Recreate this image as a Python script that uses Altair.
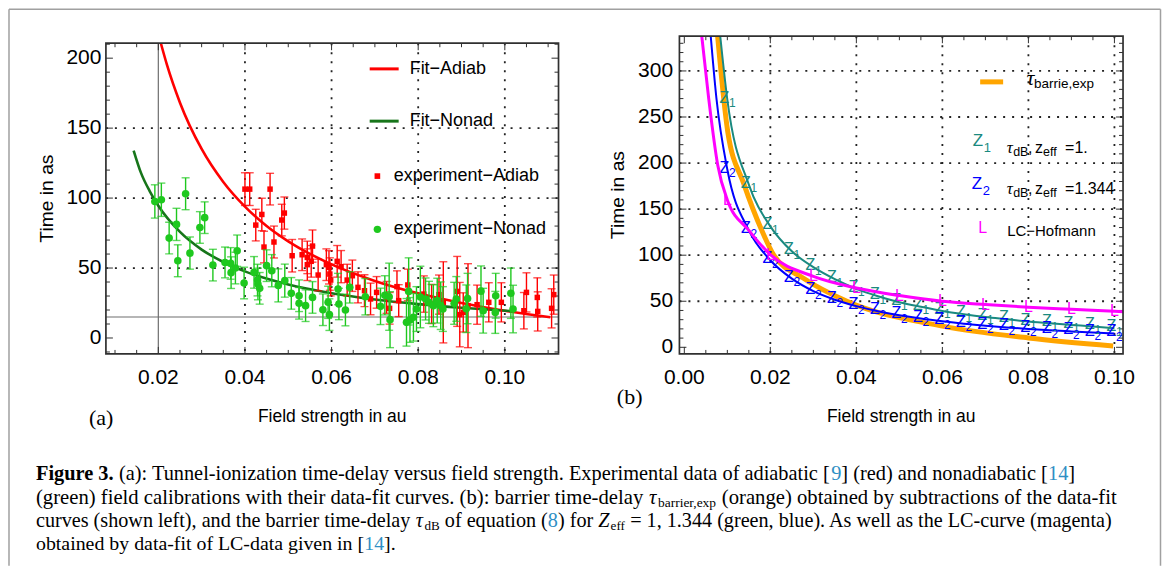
import altair as alt
import pandas as pd

# ---------------- panel (a) data ----------------
adiab_fit_x = [0.0206, 0.022, 0.025, 0.03, 0.035, 0.04, 0.045, 0.05, 0.06, 0.07, 0.08, 0.09, 0.10, 0.1105]
adiab_fit_y = [210.5, 195.2, 168.2, 135.1, 111.5, 93.9, 80.1, 69.1, 52.6, 40.8, 31.9, 25.0, 19.5, 14.8]
nonad_fit_x = [0.0143, 0.016, 0.018, 0.02, 0.025, 0.03, 0.035, 0.04, 0.05, 0.06, 0.07, 0.08, 0.09, 0.1015]
nonad_fit_y = [134, 118, 105, 94.5, 75.8, 63.2, 54.3, 47.6, 38.2, 32.0, 27.5, 24.2, 21.6, 19.2]

adiab_x = [0.0400, 0.0411, 0.0425, 0.0439, 0.0444, 0.0458, 0.0467, 0.0485, 0.0491, 0.0509,
           0.0532, 0.0544, 0.0544, 0.0553, 0.0556, 0.0569, 0.0588, 0.0594, 0.0596, 0.0598,
           0.0613, 0.0622, 0.0636, 0.0648, 0.0661, 0.0676, 0.0690, 0.0704, 0.0727, 0.0734,
           0.0751, 0.0755, 0.0776, 0.0813, 0.0831, 0.0848, 0.0858, 0.0890, 0.0896, 0.0904,
           0.0915, 0.0936, 0.0963, 0.0992, 0.1044, 0.1050, 0.1075, 0.1076, 0.1108, 0.1113]
adiab_y = [106.4, 106.4, 80.7, 88.3, 65.0, 106.4, 68.6, 84.3, 89.3, 58.8,
           59.5, 57.6, 52.4, 54.8, 65.7, 45.0, 52.4, 50.5, 45.7, 41.4,
           54.8, 51.0, 41.4, 44.5, 36.2, 33.8, 27.9, 32.6, 29.0, 21.2,
           36.7, 26.7, 37.9, 31.4, 24.3, 31.0, 25.5, 33.3, 16.7, 18.3,
           23.1, 23.8, 25.5, 25.5, 19.5, 32.6, 29.0, 19.0, 21.2, 31.0]
adiab_err = [11.7, 11.7, 11.3, 11.6, 11.3, 11.3, 11.4, 11.3, 11.5, 11.6,
             11.3, 11.6, 11.3, 11.3, 11.5, 11.3, 11.3, 11.9, 11.6, 11.3,
             11.3, 11.5, 11.3, 11.2, 11.1, 11.4, 11.3, 11.3, 11.4, 11.3,
             11.3, 11.4, 11.3, 13.0, 14.0, 14.0, 29.0, 25.0, 23.0, 14.0,
             30.0, 14.0, 14.0, 14.0, 13.0, 14.0, 14.0, 14.0, 14.0, 14.0]

nonad_x = [0.0192, 0.0207, 0.0225, 0.0242, 0.0245, 0.0263, 0.0273, 0.0296, 0.0307, 0.0326,
           0.0354, 0.0367, 0.0368, 0.0378, 0.0382, 0.0398, 0.0421, 0.0429, 0.0430, 0.0434,
           0.0450, 0.0462, 0.0477, 0.0492, 0.0507, 0.0525, 0.0525, 0.0540, 0.0556, 0.0580,
           0.0592, 0.0595, 0.0615, 0.0617, 0.0632, 0.0642, 0.0678, 0.0713, 0.0723, 0.0733,
           0.0735, 0.0773, 0.0778, 0.0781, 0.0789, 0.0796, 0.0805, 0.0817, 0.0825, 0.0835,
           0.0844, 0.0852, 0.0857, 0.0883, 0.0888, 0.0911, 0.0914, 0.0945, 0.0950, 0.0978,
           0.0979, 0.1014, 0.1019]
nonad_y = [97.6, 98.8, 71.4, 81.2, 55.2, 103.1, 60.7, 79.0, 86.0, 52.1,
           54.0, 53.3, 46.7, 50.0, 62.4, 39.3, 46.9, 41.4, 38.6, 35.5,
           51.7, 48.1, 37.6, 41.0, 31.9, 30.2, 24.8, 23.1, 29.0, 20.2,
           25.5, 16.7, 35.0, 24.3, 20.0, 36.2, 29.5, 22.6, 30.5, 29.5,
           13.1, 11.2, 33.3, 12.9, 14.8, 20.7, 29.3, 27.9, 25.5, 23.1,
           26.7, 23.1, 20.7, 24.8, 27.9, 20.9, 28.2, 33.5, 19.5, 18.3,
           30.2, 32.0, 20.7]
nonad_err = [11.9, 11.9, 11.3, 11.5, 11.4, 11.4, 11.5, 11.3, 11.3, 11.3,
             11.0, 11.3, 11.3, 11.3, 11.2, 11.3, 11.3, 11.3, 11.3, 11.3,
             11.3, 11.5, 11.8, 11.8, 11.3, 11.3, 11.3, 11.3, 11.3, 11.3,
             11.5, 11.3, 11.2, 11.2, 11.3, 11.2, 13.0, 13.0, 14.0, 24.0,
             20.0, 17.0, 24.0, 16.0, 17.0, 16.0, 22.0, 15.0, 15.0, 15.0,
             16.0, 17.0, 16.0, 15.0, 16.0, 17.0, 18.0, 18.0, 16.0, 15.0,
             16.0, 18.0, 17.0]

a_grid_x = [0.04, 0.06, 0.08, 0.10]
a_grid_y = [50, 100, 150]
a_ref_x = [0.02]
a_ref_y = [15]
a_major_x = [0.02, 0.04, 0.06, 0.08, 0.10]
a_xlabels = ["0.02", "0.04", "0.06", "0.08", "0.10"]
a_minor_x = [0.01, 0.015, 0.025, 0.03, 0.035, 0.045, 0.05, 0.055, 0.065, 0.07, 0.075,
             0.085, 0.09, 0.095, 0.105, 0.11]
a_major_y = [0, 50, 100, 150, 200]
a_ylabels = ["0", "50", "100", "150", "200"]
a_minor_y = [-10, 10, 20, 30, 40, 60, 70, 80, 90, 110, 120, 130, 140, 160, 170, 180, 190, 210]

# ---------------- panel (b) data ----------------
orange_x = [0.00776, 0.0101, 0.0138, 0.0181, 0.0208, 0.0277, 0.0378, 0.06, 0.08, 0.0997]
orange_y = [337, 234, 178, 126, 100, 75, 50, 23, 10.2, 1.5]

z1_line_x = [0.0083, 0.010, 0.015, 0.020, 0.025, 0.030, 0.035, 0.040, 0.045, 0.050, 0.055,
             0.060, 0.065, 0.070, 0.075, 0.080, 0.085, 0.090, 0.095, 0.100]
z1_line_y = [340, 268.8, 176.6, 131.3, 104.2, 87, 74, 63.5, 55.5, 49, 44,
             39.5, 36, 33, 30.5, 28, 26, 24.3, 22.7, 20.8]
z2_line_x = [0.0061, 0.00746, 0.010, 0.015, 0.020, 0.025, 0.030, 0.035, 0.040, 0.045, 0.050,
             0.055, 0.060, 0.065, 0.070, 0.075, 0.080, 0.085, 0.090, 0.095, 0.100]
z2_line_y = [340, 270.5, 193, 127, 94.5, 74.5, 61, 51.7, 44.7, 39.2, 34.8,
             31.2, 28.2, 25.6, 23.5, 21.6, 19.9, 18.5, 17.2, 16.0, 15.0]
lc_x = [0.0040, 0.00567, 0.00776, 0.010, 0.015, 0.020, 0.030, 0.040, 0.050, 0.060,
        0.070, 0.080, 0.090, 0.100, 0.1021]
lc_y = [340, 270, 198, 160, 127, 100.6, 77, 64.4, 56.2, 50,
        46.4, 43.5, 41.3, 39.1, 38.7]
lc_marker_x = [0.01, 0.02, 0.03, 0.04, 0.05, 0.06, 0.07, 0.08, 0.09, 0.10]

b_grid_x = [0.02, 0.04, 0.06, 0.08, 0.10]
b_grid_y = [50, 100, 150, 200, 250, 300]
b_major_x = [0.0, 0.02, 0.04, 0.06, 0.08, 0.10]
b_xlabels = ["0.00", "0.02", "0.04", "0.06", "0.08", "0.10"]
b_minor_x = [0.005, 0.01, 0.015, 0.025, 0.03, 0.035, 0.045, 0.05, 0.055, 0.065, 0.07,
             0.075, 0.085, 0.09, 0.095]
b_major_y = [0, 50, 100, 150, 200, 250, 300]
b_ylabels = ["0", "50", "100", "150", "200", "250", "300"]
b_minor_y = [10, 20, 30, 40, 60, 70, 80, 90, 110, 120, 130, 140, 160, 170, 180, 190,
             210, 220, 230, 240, 260, 270, 280, 290, 310, 320, 330]

# ---------------- style ----------------
RED = "#ff0000"
GREEN_PT = "#1ec81e"
GREEN_FIT = "#17751a"
TEAL = "#1a8a80"
BLUE = "#0000ff"
MAG = "#ff00ff"
ORANGE = "#ffa500"
INK = "#303030"
REFBLUE = "#2f8fc4"
SANS = "Liberation Sans"
SERIF = "Liberation Serif"

W_A, W_B, H = 453, 444, 318
FT_A = 7

xs_a = alt.Scale(domain=[0.0079, 0.1124], nice=False, zero=False)
ys_a = alt.Scale(domain=[-11.4, 215.7], nice=False, zero=False)
xs_b = alt.Scale(domain=[-0.00114, 0.1020], nice=False, zero=False)
ys_b = alt.Scale(domain=[-7.2, 337.7], nice=False, zero=False)

one = pd.DataFrame({"k": [0]})


def txt(s, x, y, size=18, color="black", font=SANS, weight="normal", style="normal",
        align="left", baseline="alphabetic", angle=0):
    return alt.Chart(one).mark_text(
        text=s, font=font, fontSize=size, color=color, fontWeight=weight,
        fontStyle=style, align=align, baseline=baseline, angle=angle
    ).encode(x=alt.value(x), y=alt.value(y))


def hrule(x1, x2, y, color, width):
    return alt.Chart(one).mark_rule(color=color, strokeWidth=width).encode(
        x=alt.value(x1), x2=alt.value(x2), y=alt.value(y))


def vrule(x, y1, y2, color, width):
    return alt.Chart(one).mark_rule(color=color, strokeWidth=width).encode(
        x=alt.value(x), y=alt.value(y1), y2=alt.value(y2))


def frame(w, top, bottom):
    return alt.Chart(one).mark_rect(fillOpacity=0, stroke=INK, strokeWidth=1.7).encode(
        x=alt.value(0), x2=alt.value(w), y=alt.value(top), y2=alt.value(bottom))


def X(sc, f="x"):
    return alt.X(f + ":Q", scale=sc, axis=None)


def Y(sc, f="y"):
    return alt.Y(f + ":Q", scale=sc, axis=None)


def ticks(xs, ys, w, top, bottom, maj_x, min_x, maj_y, min_y):
    out = []
    for vals, ln in ((maj_x, 7), (min_x, 4)):
        d = pd.DataFrame({"x": vals})
        out.append(alt.Chart(d).mark_rule(color=INK, strokeWidth=1).encode(
            x=X(xs), y=alt.value(bottom), y2=alt.value(bottom - ln)))
        out.append(alt.Chart(d).mark_rule(color=INK, strokeWidth=1).encode(
            x=X(xs), y=alt.value(top), y2=alt.value(top + ln)))
    for vals, ln in ((maj_y, 7), (min_y, 4)):
        d = pd.DataFrame({"y": vals})
        out.append(alt.Chart(d).mark_rule(color=INK, strokeWidth=1).encode(
            y=Y(ys), x=alt.value(0), x2=alt.value(ln)))
        out.append(alt.Chart(d).mark_rule(color=INK, strokeWidth=1).encode(
            y=Y(ys), x=alt.value(w), x2=alt.value(w - ln)))
    return out


def tick_labels(xs, ys, xv, xl, yv, yl, ypad, w, title_x, title_y):
    lx = alt.Chart(pd.DataFrame({"x": xv, "t": xl})).mark_text(
        font=SANS, fontSize=21, color="black", align="center", baseline="top").encode(
        x=X(xs), y=alt.value(H + 13), text="t:N")
    ly = alt.Chart(pd.DataFrame({"y": yv, "t": yl})).mark_text(
        font=SANS, fontSize=21, color="black", align="right", baseline="middle").encode(
        y=Y(ys), x=alt.value(-ypad), text="t:N")
    tx = txt("Field strength in au", w / 2, H + 68, 17.5, align="center")
    ty = txt("Time in as", title_x, title_y, 19.3, align="center", angle=270)
    return [lx, ly, tx, ty]


GRID = dict(color="#222222", strokeDash=[2, 7], strokeWidth=1.8)

# ---------------- panel (a) ----------------
gx_a = alt.Chart(pd.DataFrame({"x": a_grid_x})).mark_rule(**GRID).encode(
    x=X(xs_a), y=alt.value(FT_A), y2=alt.value(H))
gy_a = alt.Chart(pd.DataFrame({"y": a_grid_y})).mark_rule(**GRID).encode(
    y=Y(ys_a), x=alt.value(0), x2=alt.value(W_A))
rx_a = alt.Chart(pd.DataFrame({"x": a_ref_x})).mark_rule(color="#6e6e6e", strokeWidth=1.2).encode(
    x=X(xs_a), y=alt.value(FT_A), y2=alt.value(H))
ry_a = alt.Chart(pd.DataFrame({"y": a_ref_y})).mark_rule(color="#6e6e6e", strokeWidth=1.2).encode(
    y=Y(ys_a), x=alt.value(0), x2=alt.value(W_A))

fit_ad = alt.Chart(pd.DataFrame({"x": adiab_fit_x, "y": adiab_fit_y})).mark_line(
    color=RED, strokeWidth=2.6, interpolate="monotone").encode(x=X(xs_a), y=Y(ys_a))
fit_na = alt.Chart(pd.DataFrame({"x": nonad_fit_x, "y": nonad_fit_y})).mark_line(
    color=GREEN_FIT, strokeWidth=2.6, interpolate="monotone").encode(x=X(xs_a), y=Y(ys_a))


def exp_layers(xv, yv, ev, color, shape, size):
    d = pd.DataFrame({"x": xv, "y": yv, "e": ev})
    d["lo"] = d["y"] - d["e"]
    d["hi"] = d["y"] + d["e"]
    base = alt.Chart(d)
    bars = base.mark_rule(color=color, strokeWidth=1.4).encode(
        x=X(xs_a), y=Y(ys_a, "lo"), y2="hi:Q")
    cap_lo = base.mark_tick(color=color, orient="horizontal", size=8, thickness=1.4).encode(
        x=X(xs_a), y=Y(ys_a, "lo"))
    cap_hi = base.mark_tick(color=color, orient="horizontal", size=8, thickness=1.4).encode(
        x=X(xs_a), y=Y(ys_a, "hi"))
    pts = base.mark_point(shape=shape, filled=True, size=size, color=color, opacity=1).encode(
        x=X(xs_a), y=Y(ys_a))
    return [bars, cap_lo, cap_hi, pts]


legend_a = [
    hrule(264, 293, 32.7, RED, 3),
    txt("Fit\u2212Adiab", 304, 32.7, baseline="middle"),
    hrule(264, 293, 85, GREEN_FIT, 3),
    txt("Fit\u2212Nonad", 304, 85, baseline="middle"),
    alt.Chart(one).mark_point(shape="square", filled=True, size=32, color=RED, opacity=1).encode(
        x=alt.value(271.7), y=alt.value(140)),
    txt("experiment\u2212Adiab", 288, 140, baseline="middle"),
    alt.Chart(one).mark_point(shape="circle", filled=True, size=55, color=GREEN_PT, opacity=1).encode(
        x=alt.value(271.7), y=alt.value(193.3)),
    txt("experiment\u2212Nonad", 288, 193.3, baseline="middle"),
]

# whole-figure border (left, top, right edges), positioned relative to panel (a)
BL, BT, BR, BB = -97, -27, 1055.5, 530
border = [vrule(BL, BT, BB, "#a0a0a0", 1.5), hrule(BL, BR, BT, "#a0a0a0", 1.5),
          vrule(BR, BT, BB, "#a0a0a0", 1.5)]

# ---------------- caption (laid out with Times-compatible advance widths) ----------------
TW = {" ": 250, "(": 333, ")": 333, ",": 250, "-": 333, ".": 250, ":": 278, "=": 564,
      "[": 333, "]": 333, "A": 722, "B": 667, "C": 667, "E": 611, "F": 556, "L": 611,
      "T": 611, "Z": 611, "a": 444, "b": 500, "c": 444, "d": 500, "e": 444, "f": 333,
      "g": 500, "h": 500, "i": 278, "j": 278, "k": 500, "l": 278, "m": 778, "n": 500,
      "o": 500, "p": 500, "q": 500, "r": 333, "s": 389, "t": 278, "u": 500, "v": 500,
      "w": 722, "x": 500, "y": 500, "z": 444, "\u03c4": 440}
TWB = {"F": 611, "i": 278, "g": 500, "u": 556, "r": 444, "e": 444, " ": 250, "3": 500, ".": 250}
SUB = 0.65


def tw(s, kind):
    tab = TWB if kind == "b" else TW
    w = sum(tab.get(ch, 500) for ch in s) / 1000.0
    return w * (SUB if kind == "s" else 1.0)


CAP_LEFT = -70
CAP_Y = [444.3, 467.7, 491.0, 514.3]
CAP_END = [970, 1012, 1008, 290]
caption_lines = [
    [("Figure 3.", "b"),
     (" (a): Tunnel-ionization time-delay versus field strength. Experimental data of adiabatic [", "n"),
     ("9", "c"), ("] (red) and nonadiabatic [", "n"), ("14", "c"), ("]", "n")],
    [("(green) field calibrations with their data-fit curves. (b): barrier time-delay ", "n"),
     ("\u03c4", "i"), ("barrier,exp", "s"),
     (" (orange) obtained by subtractions of the data-fit", "n")],
    [("curves (shown left), and the barrier time-delay ", "n"), ("\u03c4", "i"), ("dB", "s"),
     (" of equation (", "n"), ("8", "c"), (") for ", "n"), ("Z", "i"), ("eff", "s"),
     (" = 1, 1.344 (green, blue). As well as the LC-curve (magenta)", "n")],
    [("obtained by data-fit of LC-data given in [", "n"), ("14", "c"), ("].", "n")],
]
caption = []
for li, segs in enumerate(caption_lines):
    natural = sum(tw(s, k) for s, k in segs)
    size = (CAP_END[li] - CAP_LEFT) / natural
    size = max(19.0, min(21.5, size))
    x = CAP_LEFT
    for s, k in segs:
        lead = len(s) - len(s.lstrip(" "))
        x += lead * tw(" ", "n") * size
        core = s.strip(" ")
        y = CAP_Y[li]
        if k == "b":
            caption.append(txt(core, x, y, size, font=SERIF, weight="bold"))
        elif k == "c":
            caption.append(txt(core, x, y, size, color=REFBLUE, font=SERIF))
        elif k == "i":
            caption.append(txt(core, x, y, size, font=SERIF, style="italic"))
        elif k == "s":
            caption.append(txt(core, x, y + 3.5, size * SUB, font=SERIF))
        else:
            caption.append(txt(core, x, y, size, font=SERIF))
        x += tw(core, k) * size
        trail = len(s) - len(s.rstrip(" "))
        x += trail * tw(" ", "n") * size

panel_a = alt.layer(
    *border, gx_a, gy_a, rx_a, ry_a,
    *ticks(xs_a, ys_a, W_A, FT_A, H, a_major_x, a_minor_x, a_major_y, a_minor_y),
    fit_ad, fit_na,
    *exp_layers(adiab_x, adiab_y, adiab_err, RED, "square", 30),
    *exp_layers(nonad_x, nonad_y, nonad_err, GREEN_PT, "circle", 58),
    frame(W_A, FT_A, H), *legend_a,
    *tick_labels(xs_a, ys_a, a_major_x, a_xlabels, a_major_y, a_ylabels, 4.5, W_A, -53, 162.5),
    txt("(a)", -17, 389, 22, font=SERIF),
    *caption,
).properties(width=W_A, height=H)

# ---------------- panel (b) ----------------
gx_b = alt.Chart(pd.DataFrame({"x": b_grid_x})).mark_rule(**GRID).encode(
    x=X(xs_b), y=alt.value(0), y2=alt.value(H))
gy_b = alt.Chart(pd.DataFrame({"y": b_grid_y})).mark_rule(**GRID).encode(
    y=Y(ys_b), x=alt.value(0), x2=alt.value(W_B))


def curve(xv, yv, color, width):
    return alt.Chart(pd.DataFrame({"x": xv, "y": yv})).mark_line(
        color=color, strokeWidth=width, interpolate="monotone", clip=True).encode(
        x=X(xs_b), y=Y(ys_b))


def zmarkers(xv, yv, sub, color):
    d = pd.DataFrame({"x": xv, "y": yv})
    base = alt.Chart(d)
    z = base.mark_text(text="Z", font=SANS, fontSize=16, color=color, dx=-3, dy=-2,
                       align="center", baseline="middle").encode(x=X(xs_b), y=Y(ys_b))
    s = base.mark_text(text=sub, font=SANS, fontSize=12, color=color, dx=5, dy=3.5,
                       align="center", baseline="middle").encode(x=X(xs_b), y=Y(ys_b))
    return [z, s]


lc_pts = pd.DataFrame({"x": lc_marker_x, "y": [lc_y[lc_x.index(v)] for v in lc_marker_x]})
lmark = alt.Chart(lc_pts).mark_text(text="L", font=SANS, fontSize=16, color=MAG,
                                    align="center", baseline="middle").encode(
    x=X(xs_b), y=Y(ys_b))

legend_b = [
    hrule(301, 324, 45.7, ORANGE, 5),
    txt("\u03c4", 347.5, 49, 22, font=SERIF, style="italic"),
    txt("barrie,exp", 355, 52, 13.5),
    txt("Z", 293.5, 110, 17, color=TEAL),
    txt("1", 304.5, 115.5, 13, color=TEAL),
    txt("\u03c4", 327.7, 116.5, 17, font=SERIF, style="italic"),
    txt("dB", 334, 119.5, 12.5),
    txt(",", 349, 116.5, 16),
    txt("z", 356, 116.5, 16),
    txt("eff", 364, 119.5, 12.5),
    txt("=1.", 386, 116.5, 16),
    txt("Z", 292.5, 153.3, 17, color=BLUE),
    txt("2", 303.5, 158.8, 13, color=BLUE),
    txt("\u03c4", 327.7, 158, 17, font=SERIF, style="italic"),
    txt("dB", 334, 161, 12.5),
    txt(",", 349, 158, 16),
    txt("z", 356, 158, 16),
    txt("eff", 364, 161, 12.5),
    txt("=1.344", 386, 158, 16),
    txt("L", 299, 196.7, 16, color=MAG),
    txt("LC\u2212Hofmann", 328, 200, 15),
]

panel_b = alt.layer(
    gx_b, gy_b,
    *ticks(xs_b, ys_b, W_B, 0, H, b_major_x, b_minor_x, b_major_y, b_minor_y),
    curve(orange_x, orange_y, ORANGE, 5),
    curve(z1_line_x, z1_line_y, TEAL, 2),
    curve(z2_line_x, z2_line_y, BLUE, 2),
    *zmarkers(z1_line_x[1:], z1_line_y[1:], "1", TEAL),
    *zmarkers(z2_line_x[2:], z2_line_y[2:], "2", BLUE),
    curve(lc_x, lc_y, MAG, 3),
    lmark,
    frame(W_B, 0, H), *legend_b,
    *tick_labels(xs_b, ys_b, b_major_x, b_xlabels, b_major_y, b_ylabels, 6.3, W_B, -55.4, 159),
    txt("(b)", -62.6, 368, 22, font=SERIF),
).properties(width=W_B, height=H)

chart = alt.hconcat(panel_a, panel_b, spacing=121, bounds="flush").properties(
    padding=0, background="white"
).configure_view(strokeWidth=0)

chart.save("out.html", embed_options={"renderer": "svg", "actions": False})
